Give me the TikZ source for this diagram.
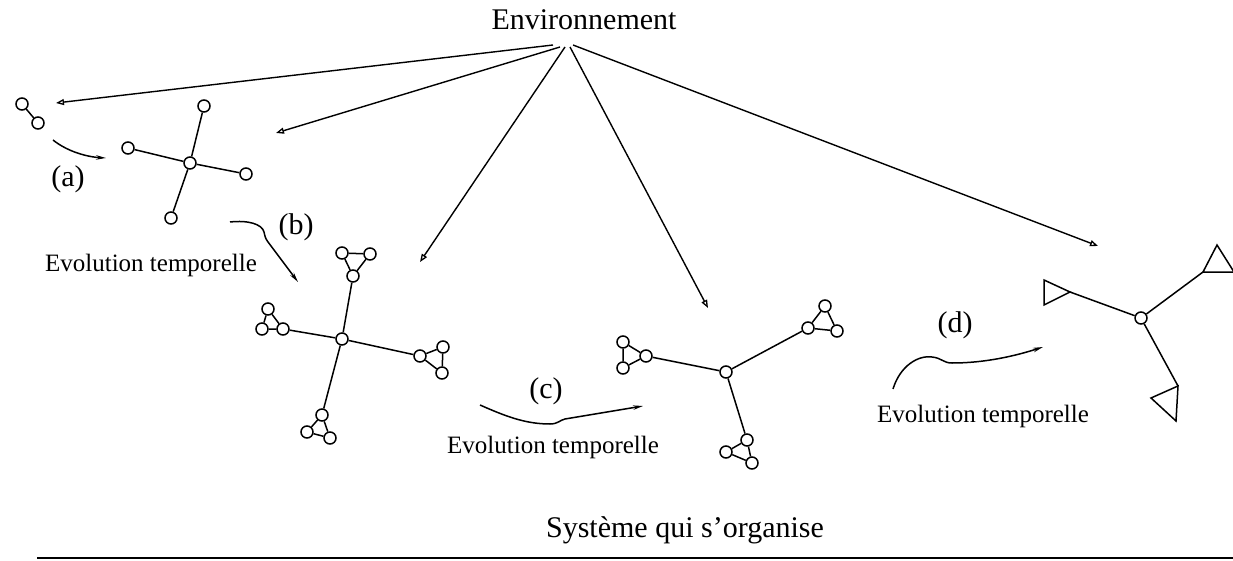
\documentclass[tikz,border=0pt]{standalone}
\usepackage{fontspec}
\setmainfont{Liberation Serif}
\usetikzlibrary{arrows.meta}
\begin{document}
\begin{tikzpicture}[x=1pt,y=-1pt,
  vtx/.style={circle,draw,line width=1.5pt,minimum size=12pt,inner sep=0pt},
  edge/.style={line width=1.5pt},
  envarrow/.style={line width=1.4pt,-{Triangle[open,length=8pt,width=6pt,line width=1.3pt]}},
  evo/.style={line width=1.5pt,-{Stealth[length=10pt,width=4.5pt]}},
  big/.style={font=\fontsize{30}{36}\selectfont,inner sep=0pt,anchor=base},
  small/.style={font=\fontsize{25}{30}\selectfont,inner sep=0pt,anchor=base}]
\useasboundingbox (0,0) rectangle (1233,561);

% titles
\node[big] (env) at (584,30) {Environnement};
\node[big] (sys) at (685,537) {Système qui s’organise};
\coordinate (ruleL) at (37,558);
\coordinate (ruleR) at (1233,558);
\draw[line width=2.2pt] (ruleL) -- (ruleR);

% stage 0: two linked vertices
\node[vtx] (p1) at (22,104) {};
\node[vtx] (p2) at (38,123) {};
\draw[edge] (p1) -- (p2);

% stage 1: star with four leaves
\node[vtx] (s1c) at (190,163) {};
\node[vtx] (s1a) at (204,106) {};
\node[vtx] (s1b) at (128,148) {};
\node[vtx] (s1d) at (246,174) {};
\node[vtx] (s1e) at (171,218) {};
\foreach \n in {s1a,s1b,s1d,s1e} \draw[edge] (s1c) -- (\n);

% stage 2: star whose leaves are triangles of vertices
\node[vtx] (s2c) at (342,339) {};
\node[vtx] (t1a) at (342,253) {};
\node[vtx] (t1b) at (370,254) {};
\node[vtx] (t1c) at (353,276) {};
\node[vtx] (t2a) at (268,309) {};
\node[vtx] (t2b) at (262,329) {};
\node[vtx] (t2c) at (283,329) {};
\node[vtx] (t3a) at (420,356) {};
\node[vtx] (t3b) at (443,347) {};
\node[vtx] (t3c) at (442,373) {};
\node[vtx] (t4a) at (322,415) {};
\node[vtx] (t4b) at (307,432) {};
\node[vtx] (t4c) at (330,438) {};
\foreach \t in {t1,t2,t3,t4}{
  \draw[edge] (\t a) -- (\t b) -- (\t c) -- (\t a);
}
\draw[edge] (s2c) -- (t1c);
\draw[edge] (s2c) -- (t2c);
\draw[edge] (s2c) -- (t3a);
\draw[edge] (s2c) -- (t4a);

% stage 3: three-branch star of triangles
\node[vtx] (s3c) at (726,372) {};
\node[vtx] (u1a) at (623,342) {};
\node[vtx] (u1b) at (623,368) {};
\node[vtx] (u1c) at (646,356) {};
\node[vtx] (u2a) at (825,306) {};
\node[vtx] (u2b) at (808,328) {};
\node[vtx] (u2c) at (837,331) {};
\node[vtx] (u3a) at (747,440) {};
\node[vtx] (u3b) at (726,452) {};
\node[vtx] (u3c) at (752,463) {};
\foreach \t in {u1,u2,u3}{
  \draw[edge] (\t a) -- (\t b) -- (\t c) -- (\t a);
}
\draw[edge] (s3c) -- (u1c);
\draw[edge] (s3c) -- (u2b);
\draw[edge] (s3c) -- (u3a);

% stage 4: triangles reduced to single shapes
\node[vtx] (s4c) at (1141,318) {};
\coordinate (w1a) at (1044,280);
\coordinate (w1b) at (1044,305);
\coordinate (w1c) at (1070,292);
\coordinate (w2a) at (1217,245);
\coordinate (w2b) at (1203,272);
\coordinate (w2c) at (1234,272);
\coordinate (w3a) at (1178,386);
\coordinate (w3b) at (1151,398);
\coordinate (w3c) at (1176,421);
\foreach \t in {w1,w2,w3}{
  \draw[edge,line join=miter] (\t a) -- (\t b) -- (\t c) -- cycle;
}
\draw[edge] (s4c) -- (w1c);
\draw[edge] (s4c) -- (w2b);
\draw[edge] (s4c) -- (w3a);

% influence of the environment
\coordinate (e1) at (553,45);
\coordinate (e2) at (560,47);
\coordinate (e3) at (565,47);
\coordinate (e4) at (570,47);
\coordinate (e5) at (573,45);
\coordinate (h1) at (56,103);
\coordinate (h2) at (276,133);
\coordinate (h3) at (420,262);
\coordinate (h4) at (708,308);
\coordinate (h5) at (1098,246);
\foreach \i in {1,...,5} \draw[envarrow] (e\i) -- (h\i);

% temporal evolution arrows
\coordinate (a0) at (53,140);
\coordinate (a1) at (106,158);
\draw[evo] (a0) .. controls (68,152) and (88,157) .. (a1);
\node[big] (la) at (68,187) {(a)};

\coordinate (b0) at (230,222);
\coordinate (b1) at (298,282);
\draw[evo] (b0) .. controls (248,220) and (262,224) .. (264,232)
  .. controls (265,236) and (265,238) .. (268,242) -- (b1);
\node[big] (lb) at (296,235) {(b)};
\node[small] (eb) at (151,271) {Evolution temporelle};

\coordinate (c0) at (480,405);
\coordinate (c1) at (643,406);
\draw[evo] (c0) .. controls (505,416) and (525,424) .. (550,424)
  .. controls (558,424) and (560,420) .. (565,419) -- (c1);
\node[big] (lc) at (546,398) {(c)};
\node[small] (ec) at (553,453) {Evolution temporelle};

\coordinate (d0) at (893,389);
\coordinate (d1) at (1043,347);
\draw[evo] (d0) .. controls (900,366) and (918,355) .. (932,357)
  .. controls (942,358) and (943,363) .. (952,363)
  .. controls (985,363) and (1015,356) .. (d1);
\node[big] (ld) at (955,332) {(d)};
\node[small] (ed) at (983,422) {Evolution temporelle};
\end{tikzpicture}
\end{document}
